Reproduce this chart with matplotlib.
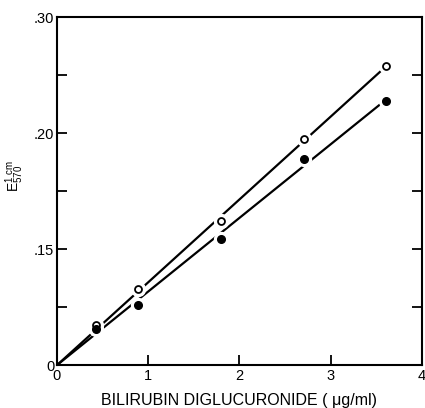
import numpy as np
import matplotlib
matplotlib.use("Agg")
import matplotlib.pyplot as plt

plt.rcParams['font.family'] = ['Liberation Sans', 'DejaVu Sans']
plt.rcParams['mathtext.fontset'] = 'custom'
plt.rcParams['mathtext.rm'] = 'Liberation Sans'

# Bilirubin diglucuronide concentration (ug/ml) and extinction at 570 nm
conc = [0.43, 0.89, 1.80, 2.71, 3.61]
e_open = [0.035, 0.066, 0.124, 0.195, 0.258]
e_filled = [0.031, 0.052, 0.109, 0.178, 0.228]

y_ticks = [0, 0.05, 0.10, 0.15, 0.20, 0.25, 0.30]
y_ticklabels = ['0', '', '.15', '', '.20', '', '.30']
x_ticks = [0, 1, 2, 3, 4]
x_ticklabels = ['0', '1', '2', '3', '4']

fig = plt.figure(figsize=(4.25, 4.08), dpi=100)
ax = fig.add_axes([0.134, 0.105, 0.859, 0.853])

x = np.array(conc)
for ys in (e_open, e_filled):
    y = np.array(ys)
    slope = np.sum(x * y) / np.sum(x * x)   # least squares through origin
    xl = np.array([0, x[-1]])
    ax.plot(xl, slope * xl, color='black', lw=1.6, solid_capstyle='butt', zorder=2)

# white halo behind markers leaves gaps in the lines
ax.plot(conc, e_open, 'o', ms=10, color='white', mec='white', zorder=3)
ax.plot(conc, e_filled, 'o', ms=10, color='white', mec='white', zorder=3)
ax.plot(conc, e_open, 'o', ms=5, mfc='white', mec='black', mew=1.3, zorder=4)
ax.plot(conc, e_filled, 'o', ms=5.5, mfc='black', mec='black', zorder=4)

ax.set_xlim(0, 4)
ax.set_ylim(0, 0.30)
ax.set_xticks(x_ticks)
ax.set_xticklabels(x_ticklabels, fontsize=10.5)
ax.set_yticks(y_ticks)
ax.set_yticklabels(y_ticklabels, fontsize=10.5)
ax.tick_params(axis='both', direction='in', length=7, width=1.3)
ax.tick_params(axis='y', right=True, pad=2)
ax.tick_params(axis='x', pad=3)
for s in ax.spines.values():
    s.set_linewidth(1.5)

ax.set_xlabel('BILIRUBIN DIGLUCURONIDE ( \u03bcg/ml)', fontsize=11.5, labelpad=7)
fig.text(15 / 425, 1 - 176 / 408, r'$\mathrm{E}_{570}^{1\ \mathrm{cm}}$',
         rotation=90, ha='center', va='center', fontsize=10)

fig.savefig('out.png', dpi=100)
